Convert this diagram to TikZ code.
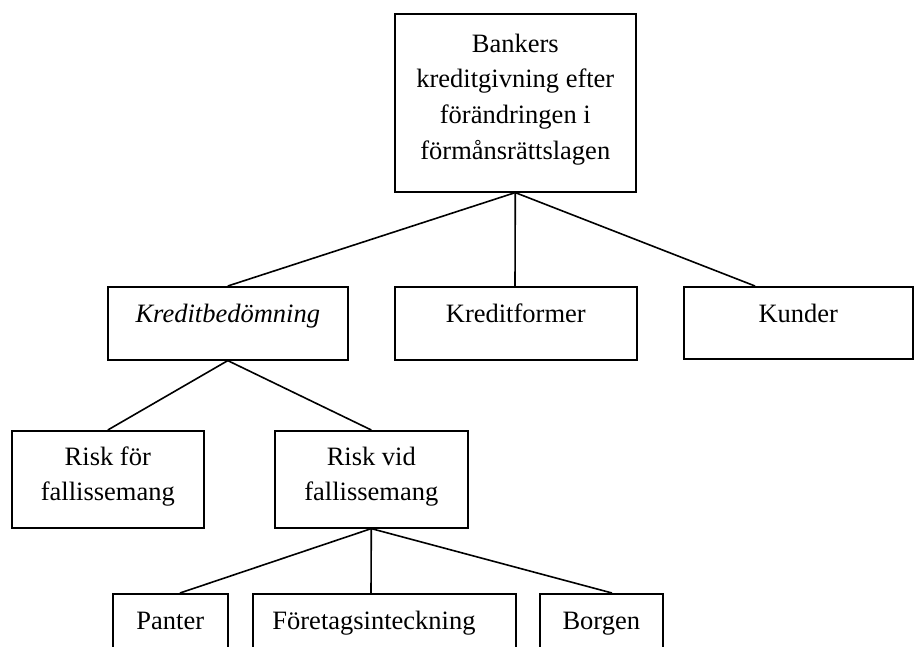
\documentclass[tikz,border=0pt]{standalone}
\usepackage{fontspec}
\setmainfont{Liberation Serif}
\usetikzlibrary{calc}
\tikzset{
  box/.style={draw=black, line width=1.6pt, fill=none, inner sep=0pt, anchor=north west},
  lbl/.style={inner sep=0pt, anchor=north, align=center, font=\fontsize{26.5}{35.7}\selectfont},
  conn/.style={draw=black, line width=1.6pt}
}
\begin{document}
\begin{tikzpicture}[x=1pt,y=-1pt]
\useasboundingbox (0,0) rectangle (914,646);
\clip (0,0) rectangle (914,646);
% boxes
\node[box, minimum width=241pt, minimum height=178pt] (top) at (394,13) {};
\node[box, minimum width=240pt, minimum height=73pt] (kb) at (107,286) {};
\node[box, minimum width=242pt, minimum height=73pt] (kf) at (394,286) {};
\node[box, minimum width=229pt, minimum height=72pt] (ku) at (683,286) {};
\node[box, minimum width=192pt, minimum height=97pt] (rf) at (11,430) {};
\node[box, minimum width=193pt, minimum height=97pt] (rv) at (274,430) {};
\node[box, minimum width=115pt, minimum height=90pt] (pa) at (112,593) {};
\node[box, minimum width=263pt, minimum height=90pt] (fo) at (252,593) {};
\node[box, minimum width=123pt, minimum height=90pt] (bo) at (539,593) {};
% texts
\node[lbl] (top-t) at (top.north) {\rule{0pt}{39pt}Bankers\\kreditgivning efter\\förändringen i\\förmånsrättslagen};
\node[lbl] (kb-t) at (kb.north) {\rule{0pt}{36pt}\itshape Kreditbedömning};
\node[lbl] (kf-t) at (kf.north) {\rule{0pt}{36.5pt}Kreditformer};
\node[lbl] (ku-t) at (ku.north) {\rule{0pt}{36pt}Kunder};
\node[lbl] (rf-t) at (rf.north) {\rule{0pt}{35pt}Risk för\\fallissemang};
\node[lbl] (rv-t) at (rv.north) {\rule{0pt}{35pt}Risk vid\\fallissemang};
\node[lbl] (pa-t) at (pa.north) {\rule{0pt}{36pt}Panter};
\node[lbl] (fo-t) at ($(fo.north west)+(122,0)$) {\rule{0pt}{36pt}Företagsinteckning};
\node[lbl] (bo-t) at (bo.north) {\rule{0pt}{36pt}Borgen};
% connectors
\draw[conn] (top.south) -- (kb.north);
\draw[conn] (top.south) -- ($(kf.north west)+(121,0)$);
\draw[conn] (top.south) -- ($(ku.north west)+(72,0)$);
\draw[conn] (kb.south) -- (rf.north);
\draw[conn] (kb.south) -- (rv.north);
\draw[conn] (rv.south) -- ($(pa.north west)+(68,0)$);
\draw[conn] (rv.south) -- ($(fo.north west)+(119,0)$);
\draw[conn] (rv.south) -- ($(bo.north west)+(73,0)$);
\end{tikzpicture}
\end{document}
